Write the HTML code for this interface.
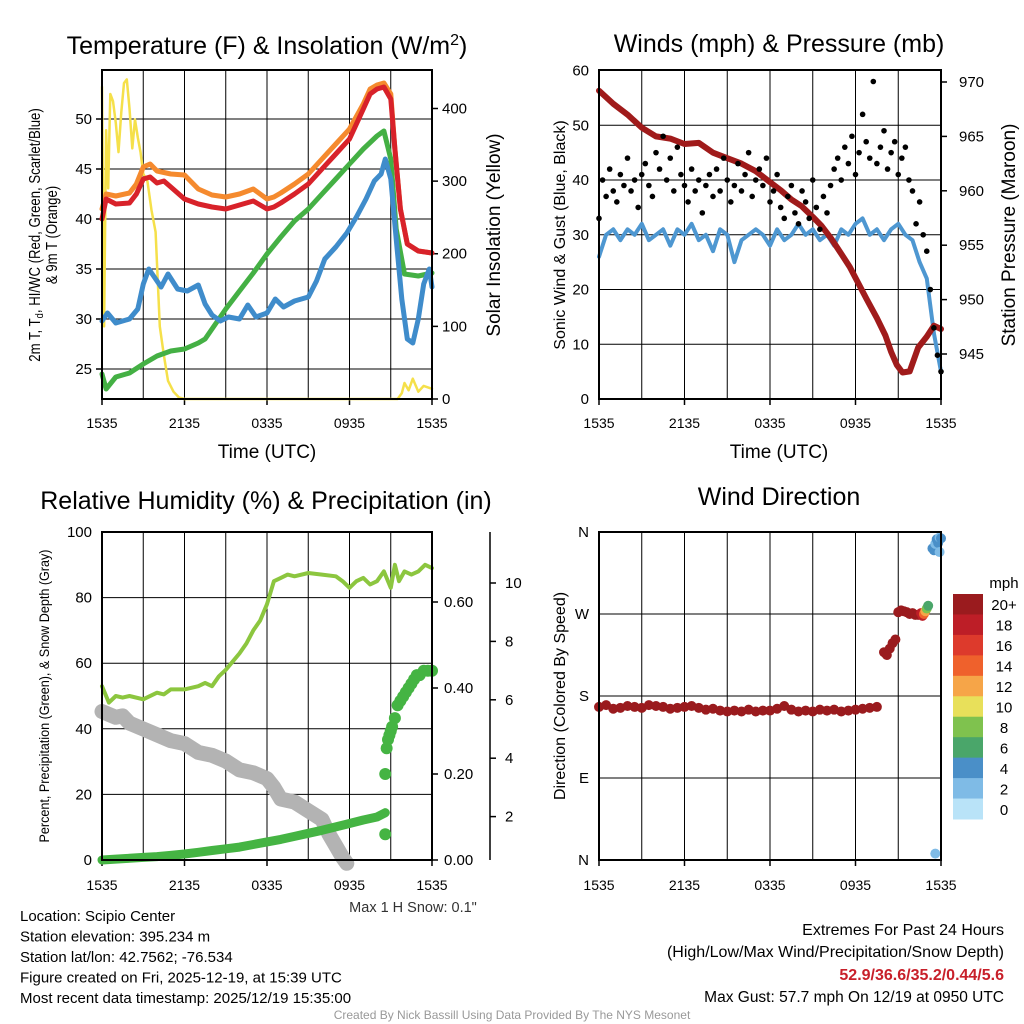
<!DOCTYPE html>
<html><head><meta charset="utf-8"><style>
body{margin:0;background:#fff;}
svg{display:block;font-family:"Liberation Sans",sans-serif;}
</style></head><body>
<svg id="c" width="1024" height="1024" viewBox="0 0 1024 1024">
<rect width="1024" height="1024" fill="#fff"/>
</svg>
<script>
// ---- data ----
const timeTicks = ['1535','2135','0335','0935','1535'];
const tempTicks = [25,30,35,40,45,50];
const solarTicks = [0,100,200,300,400];
const windTicks = [0,10,20,30,40,50,60];
const presTicks = [945,950,955,960,965,970];
const rhTicks = [0,20,40,60,80,100];
const precipTicks = [0,0.2,0.4,0.6];
const snowTicks = [2,4,6,8,10];
const dirTicks = ['N','E','S','W','N'];
const cbLabels = ['20+','18','16','14','12','10','8','6','4','2','0'];
const cbColors = ['#9a1b1e','#bd1e27','#dd3a2c','#ef612c','#f6a548','#e8e05a','#7fc24e','#4aa66a','#4a8fc8','#7fbbe6','#b9e3f8'];

const redH = [0,0.3,1,2,2.5,3,3.5,4,4.5,5,6,7,8,9,10,11,12,12.5,13,14,15,16,17,18,19,19.5,20,20.5,21,21.3,21.7,22.2,23,24];
const redV = [40,42,41.5,41.6,42.5,44,44.2,43.6,43.8,43.2,42,41.5,41.2,41,41.4,41.8,41,41.2,41.6,42.5,43.5,45,46.5,48,51,52.5,53,53.2,52,47,41,37.5,36.8,36.6];
const orgH = [0,0.3,1,2,2.5,3,3.5,4,5,6,7,8,9,10,11,12,12.5,13,14,15,16,17,18,19,19.5,20,20.5,21,21.3,21.7,22.2,23,24];
const orgV = [41,42.5,42.3,42.6,43.5,45.2,45.5,44.8,44.5,44.4,43,42.4,42.2,42.5,43,42,42.2,42.6,43.5,44.5,46,47.5,49,51.5,53,53.4,53.6,52.5,47,41,37.5,36.8,36.6];
const grnH = [0,0.3,1,2,3,4,5,6,7,7.5,8,9,10,11,12,13,14,15,16,17,18,19,20,20.5,21,21.4,22,23,24];
const grnV = [24.5,23,24.2,24.6,25.5,26.3,26.8,27,27.6,28,29,31,32.8,34.6,36.5,38.2,39.8,41,42.5,44,45.5,47,48.3,48.8,46,39,34.5,34.3,34.6];
const bluH = [0,0.4,1,2,2.6,3,3.4,3.8,4.3,4.8,5.5,6.2,7,7.5,8,8.6,9.2,10,10.6,11.2,12,12.6,13.2,14,15,15.6,16.2,17,17.8,18.5,19.2,19.8,20.3,20.6,21,21.4,21.8,22.2,22.6,23,23.4,23.8,24];
const bluV = [29.8,30.6,29.6,30,31,33.5,35,34.2,33.2,34.5,33,32.8,33.4,31.5,30.4,29.8,30.2,30,31.4,30.2,30.6,32,31.2,31.8,32.2,33.8,36,37.2,38.6,40.2,42,43.8,44.5,46,44,38,32,28,27.6,30,33.5,35,33.2];
const solH = [0,0.15,0.3,0.45,0.6,0.8,1,1.2,1.4,1.6,1.8,2,2.2,2.4,2.6,2.8,3,3.3,3.6,3.9,4.2,4.5,4.8,5.2,5.6,6,21.5,21.8,22,22.3,22.6,23,23.4,24];
const solV = [430,100,370,290,420,410,380,340,395,435,440,400,345,385,360,340,310,300,260,230,100,60,25,10,2,0,0,8,22,12,28,10,18,14];

const windV = [26,30,31,29,31,30,32,29,30,31,28,31,30,32,29,30,27,31,30,25,29,30,31,30,28,31,29,30,32,30,31,29,30,28,31,30,32,33,30,31,29,31,32,30,29,25,22,12,5];
const gustV = [33,40,37,42,38,36,41,39,44,38,40,35,41,43,39,37,45,42,48,40,44,38,46,41,39,36,42,38,40,34,39,41,37,42,38,44,40,36,39,43,38,41,45,37,40,42,39,44,36,38,41,35,33,37,39,34,32,38,36,33,40,35,31,37,34,39,42,44,40,46,43,48,41,45,52,47,44,58,43,46,49,42,45,47,41,44,46,40,38,32,36,30,27,20,13,8,5];
const presH = [0,0.5,1,2,3,4,5,6,7,8,9,10,11,12,12.8,13.5,14.2,15,15.6,16.3,17,17.6,18.2,18.8,19.5,20.1,20.5,20.9,21.3,21.8,22.4,23,23.5,24];
const presV = [969.2,968.6,968,967,965.8,965,964.8,964.3,964.4,963.5,963,962.5,961.8,960.8,960,959.2,958.6,957.6,956.8,955.6,954.2,953,951.5,950,948.3,946.7,945.2,944,943.3,943.4,945.6,946.6,947.6,947.3];

const rhH = [0,0.5,1,1.5,2,3,4,4.5,5,6,7,7.5,8,8.5,9,10,10.5,11,11.5,12,12.5,13,13.5,14,15,16,17,17.5,18,18.5,19,19.5,20,20.5,21,21.3,21.6,22,22.5,23,23.5,24];
const rhV = [53,48,50,49.5,50,49,51,50.5,52,52,53,54,53,56,58,63,66,70,73,78,85,86,87,86.5,87.5,87,86.5,85,83,85,86,84,85,88,83,90,85,88,87,88,90,89];
const prH = [0,1,2,3,4,5,6,7,8,9,10,11,12,13,14,15,16,17,18,19,20,20.6];
const prV = [0,0.002,0.004,0.006,0.008,0.011,0.014,0.018,0.022,0.026,0.03,0.036,0.042,0.048,0.055,0.062,0.069,0.077,0.085,0.093,0.1,0.11];
const prDotH = [20.6,20.6,20.7,20.8,20.9,21.0,21.1,21.3,21.5,21.7,21.9,22.1,22.3,22.5,22.7,22.9,23.1,23.4,23.7,24];
const prDotV = [0.06,0.2,0.26,0.28,0.29,0.3,0.31,0.33,0.36,0.37,0.38,0.39,0.40,0.41,0.42,0.43,0.43,0.44,0.44,0.44];
const snH = [0,0.5,1,1.5,2,3,4,5,6,7,8,9,10,11,12,12.5,13,14,15,16,16.5,17,17.5,17.8];
const snV = [5.6,5.5,5.4,5.45,5.2,5.0,4.8,4.6,4.5,4.2,4.1,3.9,3.6,3.5,3.3,3.0,2.6,2.5,2.2,1.9,1.4,1.0,0.6,0.4];

const dirH = [0,0.5,1,1.5,2,2.5,3,3.5,4,4.5,5,5.5,6,6.5,7,7.5,8,8.5,9,9.5,10,10.5,11,11.5,12,12.5,13,13.5,14,14.5,15,15.5,16,16.5,17,17.5,18,18.5,19,19.5,20,20.2,20.4,20.6,20.8,21.0,21.2,21.4,21.6,21.8,22,22.2,22.4,22.6,22.7,22.8,22.9,23.0,23.1,23.4,23.5,23.6,23.7,23.8,23.9,23.9,24.0,23.6];
const dirV = [168,170,166,167,169,168,167,170,169,168,166,167,168,169,167,165,166,164,163,164,163,165,163,164,164,166,169,165,163,164,163,165,164,165,163,164,165,166,167,168,228,225,232,238,242,272,274,273,272,270,271,269,269,271,268,270,273,276,279,342,340,347,352,348,354,338,353,7];
const dirS = [21,21,21,21,21,21,21,21,21,21,21,21,21,21,21,21,21,21,21,21,21,21,21,21,21,21,21,21,21,21,21,21,21,21,21,21,21,21,21,21,21,21,21,21,21,21,21,21,21,21,21,21,20,18,17,14,12,8,6,3,3,2,4,3,2,2,3,2];

// ---- drawing ----
const svg = document.getElementById('c');
const NS = 'http://www.w3.org/2000/svg';
function mk(tag, attrs, parent){
  const e = document.createElementNS(NS, tag);
  for (const k in attrs) e.setAttribute(k, attrs[k]);
  (parent||svg).appendChild(e);
  return e;
}
function txt(s, x, y, size, anchor, parent, extra){
  const t = mk('text', Object.assign({x:x, y:y, 'font-size':size, 'text-anchor':anchor||'middle', fill:'#000'}, extra||{}), parent);
  t.textContent = s;
  return t;
}
function lin(d0,d1,r0,r1){ return v => r0 + (v-d0)*(r1-r0)/(d1-d0); }
function poly(xs, ys, fx, fy, color, w, name, parent){
  let d = '';
  for (let i=0;i<xs.length;i++) d += (i?'L':'M') + fx(xs[i]).toFixed(1) + ',' + fy(ys[i]).toFixed(1);
  const p = mk('path', {d:d, fill:'none', stroke:color, 'stroke-width':w, 'stroke-linejoin':'round', 'stroke-linecap':'round'}, parent);
  
  
  return p;
}
function frame(){ return mk('g', {}); }
function timeAxis(g, x0, x1, yB, yT, yLab){
  const fx = lin(0,24,x0,x1);
  for (let h=3; h<24; h+=3) mk('line',{x1:fx(h),x2:fx(h),y1:yT,y2:yB,stroke:'#000','stroke-width':1},g);
  timeTicks.forEach((s,i)=>{
    const x = fx(i*6);
    mk('line',{x1:x,x2:x,y1:yB,y2:yB+6,stroke:'#000','stroke-width':1.5},g);
    const t = txt(s, x, yLab, 14, 'middle', g);
    
    
  });
  return fx;
}

// ===== Panel 1: temperature =====
(function(){
  const g = frame();
  
  
  const X0=102,X1=432,Y0=70,Y1=399;
  const fy = lin(22,54.9,Y1,Y0);
  const fs = lin(0,453,Y1,Y0);
  tempTicks.forEach(v=>{
    mk('line',{x1:X0,x2:X1,y1:fy(v),y2:fy(v),stroke:'#000','stroke-width':1},g);
    mk('line',{x1:X0-6,x2:X0,y1:fy(v),y2:fy(v),stroke:'#000','stroke-width':1.5},g);
    const t=txt(String(v), X0-10, fy(v)+5, 15, 'end', g);
    
    
  });
  solarTicks.forEach(v=>{
    mk('line',{x1:X1,x2:X1+6,y1:fs(v),y2:fs(v),stroke:'#000','stroke-width':1.5},g);
    const t=txt(String(v), X1+10, fs(v)+5, 15, 'start', g);
    
    
  });
  const fx = timeAxis(g, X0, X1, Y1, Y0, 428);
  poly(solH, solV, fx, fs, '#f5e04a', 2.5, 'solar-line', g);
  poly(grnH, grnV, fx, fy, '#44b044', 5, 'heat-index-line', g);
  poly(bluH, bluV, fx, fy, '#3f8ccb', 5, 'dewpoint-line', g);
  poly(orgH, orgV, fx, fy, '#f58a2e', 5, 'temp-9m-line', g);
  poly(redH, redV, fx, fy, '#d8222a', 5, 'temp-2m-line', g);
  mk('rect',{x:X0,y:Y0,width:X1-X0,height:Y1-Y0,fill:'none',stroke:'#000','stroke-width':2},g);
  const t1 = mk('text',{x:267,y:54,'font-size':25,'text-anchor':'middle'},g);
  t1.innerHTML = 'Temperature (F) &amp; Insolation (W/m<tspan dy="-9" font-size="16">2</tspan><tspan dy="9">)</tspan>';
  
  
  const xl = txt('Time (UTC)', 267, 458, 19, 'middle', g);
  
  
  const yl = mk('text',{transform:'translate(40,235) rotate(-90) scale(0.85,1)','font-size':15.5,'text-anchor':'middle'},g);
  yl.innerHTML = '2m T, T<tspan dy="3" font-size="11">d</tspan><tspan dy="-3">, HI/WC (Red, Green, Scarlet/Blue)</tspan>';
  
  
  const yl2 = txt('& 9m T (Orange)', 0, 0, 15.5, 'middle', g, {transform:'translate(57,235) rotate(-90) scale(0.85,1)'});
  
  
  const yr = txt('Solar Insolation (Yellow)', 0, 0, 19, 'middle', g, {transform:'translate(500,235) rotate(-90)'});
  
  
})();

// ===== Panel 2: winds =====
(function(){
  const g = frame();
  
  
  const X0=599,X1=941,Y0=70,Y1=399;
  const fy = lin(0,60.1,Y1,Y0);
  const fp = lin(945,970,354,82);
  windTicks.forEach(v=>{
    mk('line',{x1:X0,x2:X1,y1:fy(v),y2:fy(v),stroke:'#000','stroke-width':1},g);
    const t=txt(String(v), X0-10, fy(v)+5, 15, 'end', g);
    
    
  });
  presTicks.forEach(v=>{
    mk('line',{x1:X1,x2:X1+6,y1:fp(v),y2:fp(v),stroke:'#000','stroke-width':1.5},g);
    const t=txt(String(v), X1+18, fp(v)+5, 15, 'start', g);
    
    
  });
  const fx = timeAxis(g, X0, X1, Y1, Y0, 428);
  const wh = windV.map((v,i)=>i*0.5);
  poly(wh, windV, fx, fy, '#4e97d1', 4, 'wind-speed-line', g);
  poly(presH, presV, fx, fp, '#a01b1b', 6, 'pressure-line', g);
  gustV.forEach((v,i)=>{
    const c = mk('circle',{cx:fx(i*0.25),cy:fy(v),r:2.8,fill:'#000'},g);
    
    
  });
  mk('rect',{x:X0,y:Y0,width:X1-X0,height:Y1-Y0,fill:'none',stroke:'#000','stroke-width':2},g);
  const t1 = txt('Winds (mph) & Pressure (mb)', 779, 52, 25, 'middle', g);
  
  
  const xl = txt('Time (UTC)', 779, 458, 19, 'middle', g);
  
  
  const yl = txt('Sonic Wind & Gust (Blue, Black)', 0, 0, 16, 'middle', g, {transform:'translate(565,235) rotate(-90)'});
  
  
  const yr = txt('Station Pressure (Maroon)', 0, 0, 19, 'middle', g, {transform:'translate(1015,235) rotate(-90)'});
  
  
})();

// ===== Panel 3: RH & precip =====
(function(){
  const g = frame();
  
  
  const X0=102,X1=432,Y0=532,Y1=860;
  const fy = lin(0,100,Y1,Y0);
  const fpr = lin(0,0.2,Y1,774);
  const fsn = lin(0,10,875,583);
  rhTicks.forEach(v=>{
    mk('line',{x1:X0,x2:X1,y1:fy(v),y2:fy(v),stroke:'#000','stroke-width':1},g);
    const t=txt(String(v), X0-10, fy(v)+5, 15, 'end', g);
    
    
  });
  precipTicks.forEach(v=>{
    mk('line',{x1:X1,x2:X1+6,y1:fpr(v),y2:fpr(v),stroke:'#000','stroke-width':1.5},g);
    const t=txt(v.toFixed(2), X1+12, fpr(v)+5, 15, 'start', g);
    
    
  });
  mk('line',{x1:490,x2:490,y1:Y0,y2:Y1,stroke:'#000','stroke-width':1.5},g);
  snowTicks.forEach(v=>{
    mk('line',{x1:490,x2:496,y1:fsn(v),y2:fsn(v),stroke:'#000','stroke-width':1.5},g);
    const t=txt(String(v), 505, fsn(v)+5, 15, 'start', g);
    
    
  });
  const fx = timeAxis(g, X0, X1, Y1, Y0, 890);
  poly(snH, snV, fx, fsn, '#b3b3b3', 15, 'snow-depth-line', g);
  poly(rhH, rhV, fx, fy, '#8cc63f', 4, 'rh-line', g);
  poly(prH, prV, fx, fpr, '#45b443', 9, 'precip-line', g);
  prDotH.forEach((h,i)=>{
    const c = mk('circle',{cx:fx(h),cy:fpr(prDotV[i]),r:6,fill:'#45b443'},g);
    
    
  });
  mk('rect',{x:X0,y:Y0,width:X1-X0,height:Y1-Y0,fill:'none',stroke:'#000','stroke-width':2},g);
  const t1 = txt('Relative Humidity (%) & Precipitation (in)', 266, 509, 25, 'middle', g);
  
  
  const yl = txt('Percent, Precipitation (Green), & Snow Depth (Gray)', 0, 0, 14, 'middle', g, {transform:'translate(49,696) rotate(-90) scale(0.9,1)'});
  
  
  const sn = txt('Max 1 H Snow: 0.1"', 413, 912, 14.5, 'middle', g, {fill:'#333'});
  
  
})();

// ===== Panel 4: wind direction =====
(function(){
  const g = frame();
  
  
  const X0=599,X1=941,Y0=532,Y1=860;
  const fy = lin(0,360,Y1,Y0);
  dirTicks.forEach((s,i)=>{
    const y = fy(i*90);
    mk('line',{x1:X0,x2:X1,y1:y,y2:y,stroke:'#000','stroke-width':1},g);
    const t=txt(s, X0-10, y+5, 15, 'end', g);
    
    
  });
  const fx = timeAxis(g, X0, X1, Y1, Y0, 890);
  function col(s){ const i = Math.max(0, Math.min(10, Math.ceil(s/2))); return cbColors[10-i]; }
  dirH.forEach((h,i)=>{
    const c = mk('circle',{cx:fx(h),cy:fy(dirV[i]),r:5,fill:col(dirS[i])},g);
    
    
  });
  mk('rect',{x:X0,y:Y0,width:X1-X0,height:Y1-Y0,fill:'none',stroke:'#000','stroke-width':2},g);
  const t1 = txt('Wind Direction', 779, 505, 25, 'middle', g);
  
  
  const yl = txt('Direction (Colored By Speed)', 0, 0, 16, 'middle', g, {transform:'translate(565,696) rotate(-90)'});
  
  
  const cb = mk('g',{},g);
  
  
  const bh = (819-594)/11;
  cbColors.forEach((c,i)=>{
    const r = mk('rect',{x:953,y:594+i*bh,width:30,height:bh+0.5,fill:c},cb);
    
    
    const t = txt(cbLabels[i], 1004, 594+i*bh+bh/2+6, 15, 'middle', cb);
    
    
  });
  const mph = txt('mph', 1004, 588, 15, 'middle', cb);
  
  
})();

// ===== Footer =====
(function(){
  const g = mk('g',{});
  
  
  const lines = ['Location: Scipio Center','Station elevation: 395.234 m','Station lat/lon: 42.7562; -76.534','Figure created on Fri, 2025-12-19, at 15:39 UTC','Most recent data timestamp: 2025/12/19 15:35:00'];
  lines.forEach((s,i)=>{
    const t = txt(s, 20, 921+i*20.5, 15, 'start', g);
    
    
  });
  const r = mk('g',{});
  
  
  const a = txt('Extremes For Past 24 Hours', 1004, 935, 16, 'end', r);
  
  
  const b = txt('(High/Low/Max Wind/Precipitation/Snow Depth)', 1004, 957, 16, 'end', r);
  
  
  const c = txt('52.9/36.6/35.2/0.44/5.6', 1004, 980, 16, 'end', r, {fill:'#c8202a','font-weight':'bold'});
  
  
  const d = txt('Max Gust: 57.7 mph On 12/19 at 0950 UTC', 1004, 1002, 15.5, 'end', r);
  
  
  const e = txt('Created By Nick Bassill Using Data Provided By The NYS Mesonet', 512, 1019, 12, 'middle', null, {fill:'#999'});
  
  
})();
</script>
</body></html>
